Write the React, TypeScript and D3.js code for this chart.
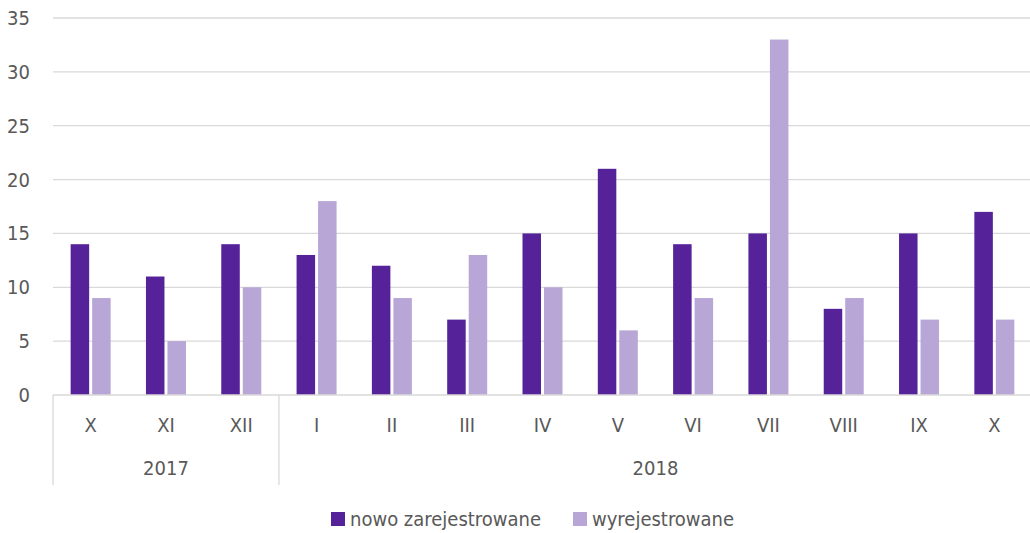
import * as React from 'react';
import * as d3 from 'd3';

const months = ['X', 'XI', 'XII', 'I', 'II', 'III', 'IV', 'V', 'VI', 'VII', 'VIII', 'IX', 'X'];
const years = [
	{ label: '2017', start: 0, end: 3 },
	{ label: '2018', start: 3, end: 13 },
];
const nowo = [14, 11, 14, 13, 12, 7, 15, 21, 14, 15, 8, 15, 17];
const wyrej = [9, 5, 10, 18, 9, 13, 10, 6, 9, 33, 9, 7, 7];
const seriesNames = ['nowo zarejestrowane', 'wyrejestrowane'];
const yTicks = [0, 5, 10, 15, 20, 25, 30, 35];

const colors = ['#55229A', '#B8A6D6'];
const font = "'Liberation Sans Narrow', 'DejaVu Sans Condensed', sans-serif";
const textColor = '#595959';

export default function App() {
	const width = 1030;
	const height = 533;
	const left = 53;
	const right = 1032;
	const top = 18;
	const bottom = 395;

	const x = d3.scaleBand<number>().domain(d3.range(months.length)).range([left, right]);
	const y = d3.scaleLinear().domain([0, 35]).range([bottom, top]);
	const barW = 18.5;
	const gap = 3;
	const series = [nowo, wyrej];

	return (
		<svg width={width} height={height} style={{ position: 'absolute', left: 0, top: 0 }} fontFamily={font}>
			{yTicks.map(t => (
				<g key={t}>
					{t > 0 && <line x1={left} x2={right} y1={y(t)} y2={y(t)} stroke='#D9D9D9' strokeWidth={1.3} />}
					<text x={30} y={y(t)} dy='0.35em' textAnchor='end' fontSize={20} fill={textColor}>
						{t}
					</text>
				</g>
			))}
			{series.map((vals, s) =>
				vals.map((v, i) => {
					const cx = x(i)! + x.bandwidth() / 2;
					const bx = s === 0 ? cx - gap / 2 - barW : cx + gap / 2;
					return <rect key={`${s}-${i}`} x={bx} y={y(v)} width={barW} height={y(0) - y(v)} fill={colors[s]} />;
				})
			)}
			<line x1={left} x2={right} y1={bottom} y2={bottom} stroke='#D9D9D9' strokeWidth={1.3} />
			{[0, 3].map(i => (
				<line key={i} x1={x(i)!} x2={x(i)!} y1={bottom} y2={485} stroke='#D9D9D9' strokeWidth={1.3} />
			))}
			{months.map((m, i) => (
				<text key={i} x={x(i)! + x.bandwidth() / 2} y={425} dy='0.35em' textAnchor='middle' fontSize={20} fill={textColor}>
					{m}
				</text>
			))}
			{years.map(yr => (
				<text
					key={yr.label}
					x={(x(yr.start)! + (x(yr.end - 1)! + x.bandwidth())) / 2}
					y={468}
					dy='0.35em'
					textAnchor='middle'
					fontSize={20}
					fill={textColor}
				>
					{yr.label}
				</text>
			))}
			{seriesNames.map((n, s) => {
				const lx = s === 0 ? 331 : 573;
				return (
					<g key={n}>
						<rect x={lx} y={512} width={14} height={14} fill={colors[s]} />
						<text x={lx + 19} y={519} dy='0.35em' fontSize={20} fill={textColor}>
							{n}
						</text>
					</g>
				);
			})}
		</svg>
	);
}
